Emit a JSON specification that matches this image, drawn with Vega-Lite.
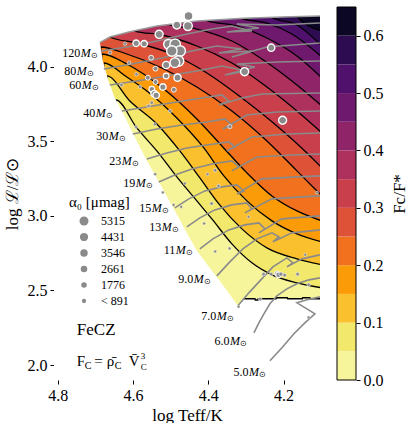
{
"$schema":"https://vega.github.io/schema/vega-lite/v6.json",
"padding":{"left":3,"top":6,"right":0,"bottom":0},
"spacing":16,
"config":{"font":"Liberation Serif","view":{"stroke":null},
 "axis":{"labelFont":"Liberation Serif","titleFont":"Liberation Serif","labelColor":"black","titleColor":"black","tickColor":"black","domainColor":"black","titleFontWeight":"normal","grid":false,"labelFontSize":16,"titleFontSize":17,"tickSize":4,"labelFlush":false,"domain":false},
 "text":{"font":"Liberation Serif","color":"black"}},
"datasets":{
"contours":[
{"k":0,"t":4.09,"L":1.9},{"k":0,"t":4.82,"L":1.9},
{"k":1,"t":4.72,"L":1.9},{"k":1,"t":4.6497,"L":1.9},{"k":1,"t":4.6457,"L":3.7769},{"k":1,"t":4.5899,"L":3.5894},{"k":1,"t":4.5367,"L":3.4353},{"k":1,"t":4.4835,"L":3.2612},{"k":1,"t":4.4303,"L":3.1005},{"k":1,"t":4.3904,"L":2.9799},{"k":1,"t":4.3372,"L":2.8124},{"k":1,"t":4.284,"L":2.6852},{"k":1,"t":4.2308,"L":2.6048},{"k":1,"t":4.1643,"L":2.5512},{"k":1,"t":4.0978,"L":2.5177},
{"k":2,"t":4.72,"L":1.9},{"k":2,"t":4.6736,"L":1.9},{"k":2,"t":4.6696,"L":3.9377},{"k":2,"t":4.6085,"L":3.7702},{"k":2,"t":4.5367,"L":3.6162},{"k":2,"t":4.4755,"L":3.4353},{"k":2,"t":4.4223,"L":3.2545},{"k":2,"t":4.3718,"L":3.0803},{"k":2,"t":4.3106,"L":2.9129},{"k":2,"t":4.2441,"L":2.7856},{"k":2,"t":4.1643,"L":2.7119},{"k":2,"t":4.0978,"L":2.6718},
{"k":3,"t":4.72,"L":1.9},{"k":3,"t":4.6816,"L":1.9},{"k":3,"t":4.6776,"L":4.0247},{"k":3,"t":4.6165,"L":3.931},{"k":3,"t":4.5633,"L":3.8372},{"k":3,"t":4.4835,"L":3.6564},{"k":3,"t":4.4117,"L":3.4554},{"k":3,"t":4.3585,"L":3.2679},{"k":3,"t":4.2973,"L":3.1005},{"k":3,"t":4.2308,"L":2.9665},{"k":3,"t":4.1643,"L":2.8794},{"k":3,"t":4.0978,"L":2.8258},
{"k":4,"t":4.72,"L":1.9},{"k":4,"t":4.6869,"L":1.9},{"k":4,"t":4.6829,"L":4.085},{"k":4,"t":4.6165,"L":4.018},{"k":4,"t":4.5181,"L":3.8506},{"k":4,"t":4.4303,"L":3.6497},{"k":4,"t":4.3638,"L":3.4688},{"k":4,"t":4.2973,"L":3.288},{"k":4,"t":4.2308,"L":3.1339},{"k":4,"t":4.1643,"L":3.0334},{"k":4,"t":4.0978,"L":2.9665},
{"k":5,"t":4.72,"L":1.9},{"k":5,"t":4.6896,"L":1.9},{"k":5,"t":4.6856,"L":4.1319},{"k":5,"t":4.6165,"L":4.085},{"k":5,"t":4.5234,"L":3.9912},{"k":5,"t":4.4303,"L":3.864},{"k":5,"t":4.3372,"L":3.7032},{"k":5,"t":4.2441,"L":3.5023},{"k":5,"t":4.1643,"L":3.3014},{"k":5,"t":4.0978,"L":3.1339},
{"k":6,"t":4.663,"L":4.4},{"k":6,"t":4.659,"L":4.1955},{"k":6,"t":4.5899,"L":4.1587},{"k":6,"t":4.4968,"L":4.085},{"k":6,"t":4.4037,"L":3.9578},{"k":6,"t":4.3106,"L":3.7903},{"k":6,"t":4.2175,"L":3.6028},{"k":6,"t":4.1377,"L":3.4219},{"k":6,"t":4.0978,"L":3.3215},
{"k":7,"t":4.5992,"L":4.4},{"k":7,"t":4.5952,"L":4.2391},{"k":7,"t":4.5234,"L":4.2123},{"k":7,"t":4.4303,"L":4.1386},{"k":7,"t":4.3372,"L":4.0247},{"k":7,"t":4.2441,"L":3.864},{"k":7,"t":4.1643,"L":3.7032},{"k":7,"t":4.0978,"L":3.5559},
{"k":8,"t":4.5088,"L":4.4},{"k":8,"t":4.5048,"L":4.2826},{"k":8,"t":4.4303,"L":4.2525},{"k":8,"t":4.3372,"L":4.1721},{"k":8,"t":4.2574,"L":4.0515},{"k":8,"t":4.1776,"L":3.9042},{"k":8,"t":4.0978,"L":3.7367},
{"k":9,"t":4.4077,"L":4.4},{"k":9,"t":4.4037,"L":4.3081},{"k":9,"t":4.3239,"L":4.2726},{"k":9,"t":4.2441,"L":4.1922},{"k":9,"t":4.1643,"L":4.0716},{"k":9,"t":4.0978,"L":3.9243},
{"k":10,"t":4.3146,"L":4.4},{"k":10,"t":4.3106,"L":4.3221},{"k":10,"t":4.2441,"L":4.2927},{"k":10,"t":4.1776,"L":4.219},{"k":10,"t":4.0978,"L":4.0649},
{"k":11,"t":4.2348,"L":4.4},{"k":11,"t":4.2308,"L":4.3308},{"k":11,"t":4.1643,"L":4.2793},{"k":11,"t":4.0978,"L":4.1386},
{"k":12,"t":4.1683,"L":4.4},{"k":12,"t":4.1643,"L":4.3362},{"k":12,"t":4.0978,"L":4.2391}
],
"bounds":[
{"b":"low","t":4.09,"L":2.444},{"b":"low","t":4.3061,"L":2.444},{"b":"low","t":4.3213,"L":2.3972},{"b":"low","t":4.3638,"L":2.5446},{"b":"low","t":4.3984,"L":2.6584},{"b":"low","t":4.4303,"L":2.7656},{"b":"low","t":4.4543,"L":2.8727},{"b":"low","t":4.479,"L":2.9886},{"b":"low","t":4.5048,"L":3.1072},{"b":"low","t":4.5322,"L":3.2344},{"b":"low","t":4.558,"L":3.3453},{"b":"low","t":4.5811,"L":3.4575},{"b":"low","t":4.6032,"L":3.5693},{"b":"low","t":4.6253,"L":3.6832},{"b":"low","t":4.6484,"L":3.7903},{"b":"low","t":4.6652,"L":3.9042},{"b":"low","t":4.6803,"L":4.0382},{"b":"low","t":4.6883,"L":4.1654},{"b":"low","t":4.6886,"L":4.4},{"b":"low","t":4.82,"L":4.4},
{"b":"up","t":4.09,"L":4.3396},{"b":"up","t":4.1032,"L":4.3396},{"b":"up","t":4.2043,"L":4.3329},{"b":"up","t":4.3061,"L":4.3242},{"b":"up","t":4.4303,"L":4.3061},{"b":"up","t":4.5367,"L":4.2726},{"b":"up","t":4.6085,"L":4.2344},{"b":"up","t":4.6617,"L":4.199},{"b":"up","t":4.6883,"L":4.161},{"b":"up","t":4.82,"L":4.161},
{"b":"bot","t":4.3061,"L":2.444},{"b":"bot","t":4.276,"L":2.444},{"b":"bot","t":4.275,"L":2.437},{"b":"bot","t":4.268,"L":2.437},{"b":"bot","t":4.267,"L":2.444},{"b":"bot","t":4.22,"L":2.444},{"b":"bot","t":4.219,"L":2.451},{"b":"bot","t":4.19,"L":2.451},{"b":"bot","t":4.189,"L":2.444},{"b":"bot","t":4.15,"L":2.444},{"b":"bot","t":4.149,"L":2.451},{"b":"bot","t":4.13,"L":2.451},{"b":"bot","t":4.129,"L":2.444},{"b":"bot","t":4.09,"L":2.444}
],
"tracks":[
{"m":"120","t":4.6856,"L":4.1051},{"m":"120","t":4.6165,"L":4.1319},{"m":"120","t":4.5367,"L":4.1721},{"m":"120","t":4.4569,"L":4.219},{"m":"120","t":4.3904,"L":4.2525},{"m":"120","t":4.3372,"L":4.2726},{"m":"120","t":4.284,"L":4.2391},{"m":"120","t":4.3505,"L":4.2324},{"m":"120","t":4.2654,"L":4.2592},{"m":"120","t":4.3239,"L":4.2859},{"m":"120","t":4.2175,"L":4.2793},{"m":"120","t":4.1032,"L":4.2926},
{"m":"80","t":4.6776,"L":3.9845},{"m":"80","t":4.6032,"L":4.018},{"m":"80","t":4.5234,"L":4.0582},{"m":"80","t":4.4436,"L":4.1051},{"m":"80","t":4.3771,"L":4.1386},{"m":"80","t":4.3106,"L":4.1185},{"m":"80","t":4.3718,"L":4.0917},{"m":"80","t":4.284,"L":4.1051},{"m":"80","t":4.3372,"L":4.0649},{"m":"80","t":4.2441,"L":4.1319},{"m":"80","t":4.1032,"L":4.1587},
{"m":"60","t":4.6617,"L":3.8774},{"m":"60","t":4.5899,"L":3.9042},{"m":"60","t":4.5101,"L":3.9377},{"m":"60","t":4.4303,"L":3.9711},{"m":"60","t":4.3638,"L":4.0046},{"m":"60","t":4.2973,"L":3.9711},{"m":"60","t":4.3558,"L":3.9444},{"m":"60","t":4.276,"L":3.9979},{"m":"60","t":4.3239,"L":4.018},{"m":"60","t":4.2175,"L":4.0314},{"m":"60","t":4.1032,"L":4.0381},
{"m":"40","t":4.6298,"L":3.7032},{"m":"40","t":4.5633,"L":3.73},{"m":"40","t":4.4835,"L":3.7635},{"m":"40","t":4.417,"L":3.7903},{"m":"40","t":4.3638,"L":3.8104},{"m":"40","t":4.3452,"L":3.7702},{"m":"40","t":4.3718,"L":3.7434},{"m":"40","t":4.3106,"L":3.7903},{"m":"40","t":4.2574,"L":3.8171},{"m":"40","t":4.1032,"L":3.8238},
{"m":"30","t":4.6005,"L":3.5492},{"m":"30","t":4.5367,"L":3.5827},{"m":"30","t":4.4702,"L":3.6095},{"m":"30","t":4.4037,"L":3.6296},{"m":"30","t":4.3558,"L":3.6497},{"m":"30","t":4.3372,"L":3.6095},{"m":"30","t":4.3611,"L":3.5827},{"m":"30","t":4.2973,"L":3.6764},{"m":"30","t":4.2175,"L":3.6965},{"m":"30","t":4.1032,"L":3.7032},
{"m":"23","t":4.5633,"L":3.3817},{"m":"23","t":4.5101,"L":3.4219},{"m":"23","t":4.4569,"L":3.4554},{"m":"23","t":4.4037,"L":3.4755},{"m":"23","t":4.3452,"L":3.4956},{"m":"23","t":4.3292,"L":3.4621},{"m":"23","t":4.3505,"L":3.4353},{"m":"23","t":4.284,"L":3.5291},{"m":"23","t":4.1909,"L":3.5492},{"m":"23","t":4.1032,"L":3.5559},
{"m":"19","t":4.5314,"L":3.2277},{"m":"19","t":4.4888,"L":3.2746},{"m":"19","t":4.4436,"L":3.3148},{"m":"19","t":4.3904,"L":3.3482},{"m":"19","t":4.3372,"L":3.3683},{"m":"19","t":4.3186,"L":3.3282},{"m":"19","t":4.3372,"L":3.3014},{"m":"19","t":4.2707,"L":3.3951},{"m":"19","t":4.1776,"L":3.4085},{"m":"19","t":4.1032,"L":3.4152},
{"m":"15","t":4.4888,"L":3.0535},{"m":"15","t":4.4516,"L":3.1138},{"m":"15","t":4.409,"L":3.1674},{"m":"15","t":4.3638,"L":3.1942},{"m":"15","t":4.3239,"L":3.2076},{"m":"15","t":4.3053,"L":3.1674},{"m":"15","t":4.3239,"L":3.1473},{"m":"15","t":4.2574,"L":3.2478},{"m":"15","t":4.1643,"L":3.2612},{"m":"15","t":4.1032,"L":3.2679},
{"m":"13","t":4.4569,"L":2.9263},{"m":"13","t":4.4223,"L":2.9866},{"m":"13","t":4.3824,"L":3.0401},{"m":"13","t":4.3372,"L":3.0737},{"m":"13","t":4.2973,"L":3.087},{"m":"13","t":4.284,"L":3.0468},{"m":"13","t":4.3026,"L":3.0201},{"m":"13","t":4.2308,"L":3.1138},{"m":"13","t":4.151,"L":3.1272},{"m":"13","t":4.1032,"L":3.1339},
{"m":"11","t":4.4223,"L":2.7789},{"m":"11","t":4.3877,"L":2.8459},{"m":"11","t":4.3452,"L":2.9062},{"m":"11","t":4.3026,"L":2.9397},{"m":"11","t":4.2654,"L":2.9531},{"m":"11","t":4.2494,"L":2.9129},{"m":"11","t":4.2654,"L":2.8861},{"m":"11","t":4.2042,"L":2.9799},{"m":"11","t":4.1377,"L":2.9932},{"m":"11","t":4.1032,"L":3.0},
{"m":"9","t":4.3771,"L":2.598},{"m":"9","t":4.3452,"L":2.6851},{"m":"9","t":4.3079,"L":2.7789},{"m":"9","t":4.2707,"L":2.8459},{"m":"9","t":4.2308,"L":2.8861},{"m":"9","t":4.2122,"L":2.8593},{"m":"9","t":4.2282,"L":2.8258},{"m":"9","t":4.1776,"L":2.8861},{"m":"9","t":4.1032,"L":2.9062},
{"m":"7","t":4.3212,"L":2.3971},{"m":"7","t":4.292,"L":2.4842},{"m":"7","t":4.2627,"L":2.5646},{"m":"7","t":4.2282,"L":2.6584},{"m":"7","t":4.1909,"L":2.7186},{"m":"7","t":4.175,"L":2.6851},{"m":"7","t":4.1909,"L":2.6584},{"m":"7","t":4.151,"L":2.7119},{"m":"7","t":4.1032,"L":2.7387},
{"m":"6","t":4.2787,"L":2.2163},{"m":"6","t":4.2654,"L":2.2833},{"m":"6","t":4.2521,"L":2.3436},{"m":"6","t":4.2361,"L":2.4105},{"m":"6","t":4.2175,"L":2.4641},{"m":"6","t":4.1909,"L":2.511},{"m":"6","t":4.1643,"L":2.5445},{"m":"6","t":4.1324,"L":2.5713},{"m":"6","t":4.1032,"L":2.5847},
{"m":"5","t":4.2361,"L":2.0288},{"m":"5","t":4.2042,"L":2.1158},{"m":"5","t":4.1723,"L":2.2096},{"m":"5","t":4.1431,"L":2.2833},{"m":"5","t":4.1165,"L":2.3436},{"m":"5","t":4.1377,"L":2.377},{"m":"5","t":4.1643,"L":2.4172},{"m":"5","t":4.1377,"L":2.4373},{"m":"5","t":4.1032,"L":2.4574}
],
"stars":[
{"t":4.4524,"L":4.3395,"a":5200},{"t":4.4542,"L":4.2726,"a":5200},{"t":4.4835,"L":4.2793,"a":4200},{"t":4.5306,"L":4.217,"a":4200},{"t":4.5917,"L":4.1567,"a":2600},{"t":4.5704,"L":4.154,"a":2600},{"t":4.621,"L":4.154,"a":470},{"t":4.5056,"L":4.15,"a":6300},{"t":4.488,"L":4.15,"a":7500},{"t":4.4747,"L":4.1051,"a":7500},{"t":4.4968,"L":4.1051,"a":7500},{"t":4.479,"L":4.0381,"a":7500},{"t":4.4888,"L":4.0267,"a":6300},{"t":4.2327,"L":4.1272,"a":3350},{"t":4.6609,"L":4.0937,"a":470},{"t":4.5518,"L":4.0602,"a":1300},{"t":4.6103,"L":4.0267,"a":470},{"t":4.5119,"L":4.0113,"a":3350},{"t":4.3034,"L":3.9665,"a":4200},{"t":4.5401,"L":3.9866,"a":1300},{"t":4.5907,"L":3.949,"a":470},{"t":4.5606,"L":3.9263,"a":1300},{"t":4.5119,"L":3.9377,"a":1900},{"t":4.4816,"L":3.9263,"a":3350},{"t":4.5401,"L":3.8975,"a":1300},{"t":4.6306,"L":3.8774,"a":470},{"t":4.5811,"L":3.864,"a":470},{"t":4.5207,"L":3.864,"a":2600},{"t":4.55,"L":3.8486,"a":1900},{"t":4.5439,"L":3.8191,"a":2600},{"t":4.5385,"L":3.8084,"a":2600},{"t":4.4915,"L":3.8459,"a":1300},{"t":4.5013,"L":3.7032,"a":470},{"t":4.55,"L":3.7588,"a":470},{"t":4.5587,"L":3.7367,"a":470},{"t":4.2024,"L":3.6409,"a":4200},{"t":4.3425,"L":3.5981,"a":840},{"t":4.5917,"L":3.5961,"a":330},{"t":4.542,"L":3.6142,"a":330},{"t":4.5412,"L":3.2793,"a":210},{"t":4.3726,"L":3.2009,"a":470},{"t":4.4018,"L":3.2793,"a":210},{"t":4.3816,"L":3.306,"a":470},{"t":4.4622,"L":3.2163,"a":210},{"t":4.5207,"L":3.156,"a":210},{"t":4.1111,"L":3.156,"a":210},{"t":4.4922,"L":3.0737,"a":210},{"t":4.472,"L":3.0603,"a":210},{"t":4.3912,"L":3.0823,"a":470},{"t":4.4109,"L":2.9484,"a":210},{"t":4.2928,"L":2.9933,"a":210},{"t":4.3816,"L":2.7608,"a":210},{"t":4.3433,"L":2.7809,"a":210},{"t":4.1423,"L":2.7387,"a":210},{"t":4.2529,"L":2.6095,"a":470},{"t":4.2327,"L":2.6095,"a":470},{"t":4.2175,"L":2.6135,"a":1300},{"t":4.213,"L":2.6048,"a":1900},{"t":4.2069,"L":2.6095,"a":840},{"t":4.197,"L":2.6028,"a":470},{"t":4.1625,"L":2.6095,"a":470},{"t":4.1332,"L":2.5378,"a":470},{"t":4.2619,"L":2.442,"a":470},{"t":4.3194,"L":2.3904,"a":210},{"t":4.1332,"L":2.3188,"a":210}
],
"labels":[
{"m":"120","t":4.7388,"L":4.0917},{"m":"80","t":4.7494,"L":3.9711},{"m":"60","t":4.7361,"L":3.8774},{"m":"40","t":4.6989,"L":3.6898},{"m":"30","t":4.6643,"L":3.5358},{"m":"23","t":4.6298,"L":3.3683},{"m":"19","t":4.5925,"L":3.221},{"m":"15","t":4.55,"L":3.0535},{"m":"13","t":4.5234,"L":2.9263},{"m":"11","t":4.4861,"L":2.7722},{"m":"9.0","t":4.4383,"L":2.578},{"m":"7.0","t":4.3771,"L":2.3302},{"m":"6.0","t":4.3425,"L":2.1627},{"m":"5.0","t":4.292,"L":1.9551}
],
"notes":[
{"id":"fecz","s":"FeCZ","t":4.7494,"L":2.2344},
{"id":"f","s":"F","t":4.7494,"L":1.9953},
{"id":"c1","s":"C","t":4.7494,"L":1.9953},
{"id":"eq","s":"=","t":4.7494,"L":1.9953},
{"id":"rho","s":"ρ̄","t":4.7494,"L":1.9953},
{"id":"c2","s":"C","t":4.7494,"L":1.9953},
{"id":"v","s":"V̄","t":4.7494,"L":1.9953},
{"id":"e3","s":"3","t":4.7494,"L":1.9953},
{"id":"c3","s":"C","t":4.7494,"L":1.9953}
],
"bands":[
{"k":0,"lo":0,"hi":0.05},{"k":1,"lo":0.05,"hi":0.1},{"k":2,"lo":0.1,"hi":0.15},{"k":3,"lo":0.15,"hi":0.2},{"k":4,"lo":0.2,"hi":0.25},{"k":5,"lo":0.25,"hi":0.3},{"k":6,"lo":0.3,"hi":0.35},{"k":7,"lo":0.35,"hi":0.4},{"k":8,"lo":0.4,"hi":0.45},{"k":9,"lo":0.45,"hi":0.5},{"k":10,"lo":0.5,"hi":0.55},{"k":11,"lo":0.55,"hi":0.6},{"k":12,"lo":0.6,"hi":0.65}
]
},
"hconcat":[
{
"width":266,"height":373,
"encoding":{
 "x":{"field":"t","type":"quantitative","scale":{"domain":[4.81,4.103],"nice":false,"zero":false},"axis":{"values":[4.8,4.6,4.4,4.2],"format":".1f","title":"log Teff/K","labelPadding":3,"titlePadding":4}},
 "y":{"field":"L","type":"quantitative","scale":{"domain":[1.9,4.4],"nice":false,"zero":false},"axis":{"values":[2,2.5,3,3.5,4],"format":".1f","title":"log ℒ/ℒ⊙","labelPadding":3,"titlePadding":6}}
},
"layer":[
{"data":{"name":"contours"},"transform":[{"filter":"datum.k==0"}],"mark":{"type":"area","color":"#f7f59b","clip":true},"encoding":{"y2":{"datum":4.4}}},
{"data":{"name":"contours"},"transform":[{"filter":"datum.k==1"}],"mark":{"type":"area","interpolate":"monotone","color":"#f2e86b","clip":true},"encoding":{"y2":{"datum":4.4}}},
{"data":{"name":"contours"},"transform":[{"filter":"datum.k==2"}],"mark":{"type":"area","interpolate":"monotone","color":"#fbc02d","clip":true},"encoding":{"y2":{"datum":4.4}}},
{"data":{"name":"contours"},"transform":[{"filter":"datum.k==3"}],"mark":{"type":"area","interpolate":"monotone","color":"#fb9b07","clip":true},"encoding":{"y2":{"datum":4.4}}},
{"data":{"name":"contours"},"transform":[{"filter":"datum.k==4"}],"mark":{"type":"area","interpolate":"monotone","color":"#f1711f","clip":true},"encoding":{"y2":{"datum":4.4}}},
{"data":{"name":"contours"},"transform":[{"filter":"datum.k==5"}],"mark":{"type":"area","interpolate":"monotone","color":"#de5238","clip":true},"encoding":{"y2":{"datum":4.4}}},
{"data":{"name":"contours"},"transform":[{"filter":"datum.k==6"}],"mark":{"type":"area","interpolate":"monotone","color":"#c93f4b","clip":true},"encoding":{"y2":{"datum":4.4}}},
{"data":{"name":"contours"},"transform":[{"filter":"datum.k==7"}],"mark":{"type":"area","interpolate":"monotone","color":"#ae305c","clip":true},"encoding":{"y2":{"datum":4.4}}},
{"data":{"name":"contours"},"transform":[{"filter":"datum.k==8"}],"mark":{"type":"area","interpolate":"monotone","color":"#8f2469","clip":true},"encoding":{"y2":{"datum":4.4}}},
{"data":{"name":"contours"},"transform":[{"filter":"datum.k==9"}],"mark":{"type":"area","interpolate":"monotone","color":"#6e196e","clip":true},"encoding":{"y2":{"datum":4.4}}},
{"data":{"name":"contours"},"transform":[{"filter":"datum.k==10"}],"mark":{"type":"area","interpolate":"monotone","color":"#50116d","clip":true},"encoding":{"y2":{"datum":4.4}}},
{"data":{"name":"contours"},"transform":[{"filter":"datum.k==11"}],"mark":{"type":"area","interpolate":"monotone","color":"#2d0c52","clip":true},"encoding":{"y2":{"datum":4.4}}},
{"data":{"name":"contours"},"transform":[{"filter":"datum.k==12"}],"mark":{"type":"area","interpolate":"monotone","color":"#0b0724","clip":true},"encoding":{"y2":{"datum":4.4}}},
{"data":{"name":"contours"},"transform":[{"filter":"datum.k>0"}],"mark":{"type":"line","interpolate":"monotone","color":"black","strokeWidth":1.3,"clip":true},"encoding":{"detail":{"field":"k","type":"nominal"}}},
{"data":{"name":"bounds"},"transform":[{"filter":"datum.b=='low'"}],"mark":{"type":"area","color":"white","clip":true},"encoding":{"y2":{"datum":1.9}}},
{"data":{"name":"bounds"},"transform":[{"filter":"datum.b=='up'"}],"mark":{"type":"area","color":"white","clip":true},"encoding":{"y2":{"datum":4.4}}},
{"data":{"name":"bounds"},"transform":[{"filter":"datum.b=='bot'"}],"mark":{"type":"line","color":"black","strokeWidth":1.5,"clip":true},"encoding":{"order":{"value":null}}},
{"data":{"name":"bounds"},"transform":[{"filter":"datum.b=='up' && datum.t<4.7"}],"mark":{"type":"line","color":"#9a9a9a","strokeWidth":1.5,"clip":true},"encoding":{}},
{"data":{"name":"tracks"},"mark":{"type":"line","color":"#8a8a8a","strokeWidth":1.6,"clip":true},"encoding":{"detail":{"field":"m","type":"nominal"},"order":{"value":null}}},
{"data":{"name":"stars"},"mark":{"type":"point","filled":true,"fill":"#8a8a8a","stroke":"white","opacity":1,"fillOpacity":1,"strokeOpacity":1},"encoding":{
 "strokeWidth":{"field":"a","type":"quantitative","scale":{"domain":[200,2500],"range":[0.4,1.4],"clamp":true},"legend":null},
 "size":{"field":"a","type":"quantitative","scale":{"domain":[0,6000],"range":[6,90]},"legend":{"orient":"none","legendX":15,"legendY":188,"direction":"vertical","title":"α₀ [μmag]","titleFont":"Liberation Serif","titleFontSize":15,"titleFontWeight":"normal","titleColor":"black","titlePadding":5,"values":[5315,4431,3546,2661,1776,891],"format":"d","labelExpr":"datum.value==891 ? '< 891' : datum.label","labelFont":"Liberation Serif","labelFontSize":12,"labelColor":"black","labelOffset":11,"symbolOffset":9,"symbolFillColor":"#8a8a8a","symbolStrokeWidth":0,"symbolType":"circle","rowPadding":4,"padding":0}}}},
{"data":{"name":"labels"},"mark":{"type":"text","align":"right","baseline":"middle","fontSize":12,"dx":-0.5},"encoding":{"text":{"field":"m"}}},
{"data":{"name":"labels"},"mark":{"type":"text","align":"left","baseline":"middle","fontSize":12,"fontStyle":"italic","text":"M"},"encoding":{}},
{"data":{"name":"labels"},"mark":{"type":"text","align":"left","baseline":"middle","fontSize":8,"dx":10.5,"dy":3,"text":"⊙"},"encoding":{}},
{"data":{"name":"notes"},"transform":[{"filter":"datum.id=='fecz'"}],"mark":{"type":"text","align":"left","baseline":"middle","fontSize":17},"encoding":{"text":{"field":"s"}}},
{"data":{"name":"notes"},"transform":[{"filter":"datum.id=='f'"}],"mark":{"type":"text","align":"left","baseline":"alphabetic","fontSize":15},"encoding":{"text":{"field":"s"}}},
{"data":{"name":"notes"},"transform":[{"filter":"datum.id=='c1'"}],"mark":{"type":"text","align":"left","baseline":"alphabetic","fontSize":10,"dx":8,"dy":3},"encoding":{"text":{"field":"s"}}},
{"data":{"name":"notes"},"transform":[{"filter":"datum.id=='eq'"}],"mark":{"type":"text","align":"left","baseline":"alphabetic","fontSize":15,"dx":17.5},"encoding":{"text":{"field":"s"}}},
{"data":{"name":"notes"},"transform":[{"filter":"datum.id=='rho'"}],"mark":{"type":"text","align":"left","baseline":"alphabetic","fontSize":15,"dx":30},"encoding":{"text":{"field":"s"}}},
{"data":{"name":"notes"},"transform":[{"filter":"datum.id=='c2'"}],"mark":{"type":"text","align":"left","baseline":"alphabetic","fontSize":10,"dx":38,"dy":3},"encoding":{"text":{"field":"s"}}},
{"data":{"name":"notes"},"transform":[{"filter":"datum.id=='v'"}],"mark":{"type":"text","align":"left","baseline":"alphabetic","fontSize":15,"dx":52},"encoding":{"text":{"field":"s"}}},
{"data":{"name":"notes"},"transform":[{"filter":"datum.id=='e3'"}],"mark":{"type":"text","align":"left","baseline":"alphabetic","fontSize":9,"dx":64,"dy":-7},"encoding":{"text":{"field":"s"}}},
{"data":{"name":"notes"},"transform":[{"filter":"datum.id=='c3'"}],"mark":{"type":"text","align":"left","baseline":"alphabetic","fontSize":9,"dx":64,"dy":4},"encoding":{"text":{"field":"s"}}},
{"data":{"values":[{}]},"mark":{"type":"rect","filled":false,"stroke":"black","strokeWidth":1,"clip":false},"encoding":{"x":{"datum":4.81},"x2":{"datum":4.103},"y":{"datum":1.9},"y2":{"datum":4.4}}}
]
},
{
"width":19,"height":373,
"layer":[
{"data":{"name":"bands"},"mark":{"type":"rect"},"encoding":{
 "y":{"field":"lo","type":"quantitative","scale":{"domain":[0,0.65],"nice":false,"zero":false},"axis":{"orient":"right","values":[0,0.1,0.2,0.3,0.4,0.5,0.6],"format":".1f","title":"Fc/F*","titleAngle":270,"titleBaseline":"top","labelPadding":3,"titlePadding":8}},
 "y2":{"field":"hi"},
 "color":{"field":"k","type":"ordinal","scale":{"domain":[0,1,2,3,4,5,6,7,8,9,10,11,12],"range":["#f7f59b","#f2e86b","#fbc02d","#fb9b07","#f1711f","#de5238","#c93f4b","#ae305c","#8f2469","#6e196e","#50116d","#2d0c52","#0b0724"]},"legend":null}}},
{"data":{"values":[{}]},"mark":{"type":"rect","filled":false,"stroke":"black","strokeWidth":1},"encoding":{"y":{"datum":0},"y2":{"datum":0.65}}}
]
}
]
}
